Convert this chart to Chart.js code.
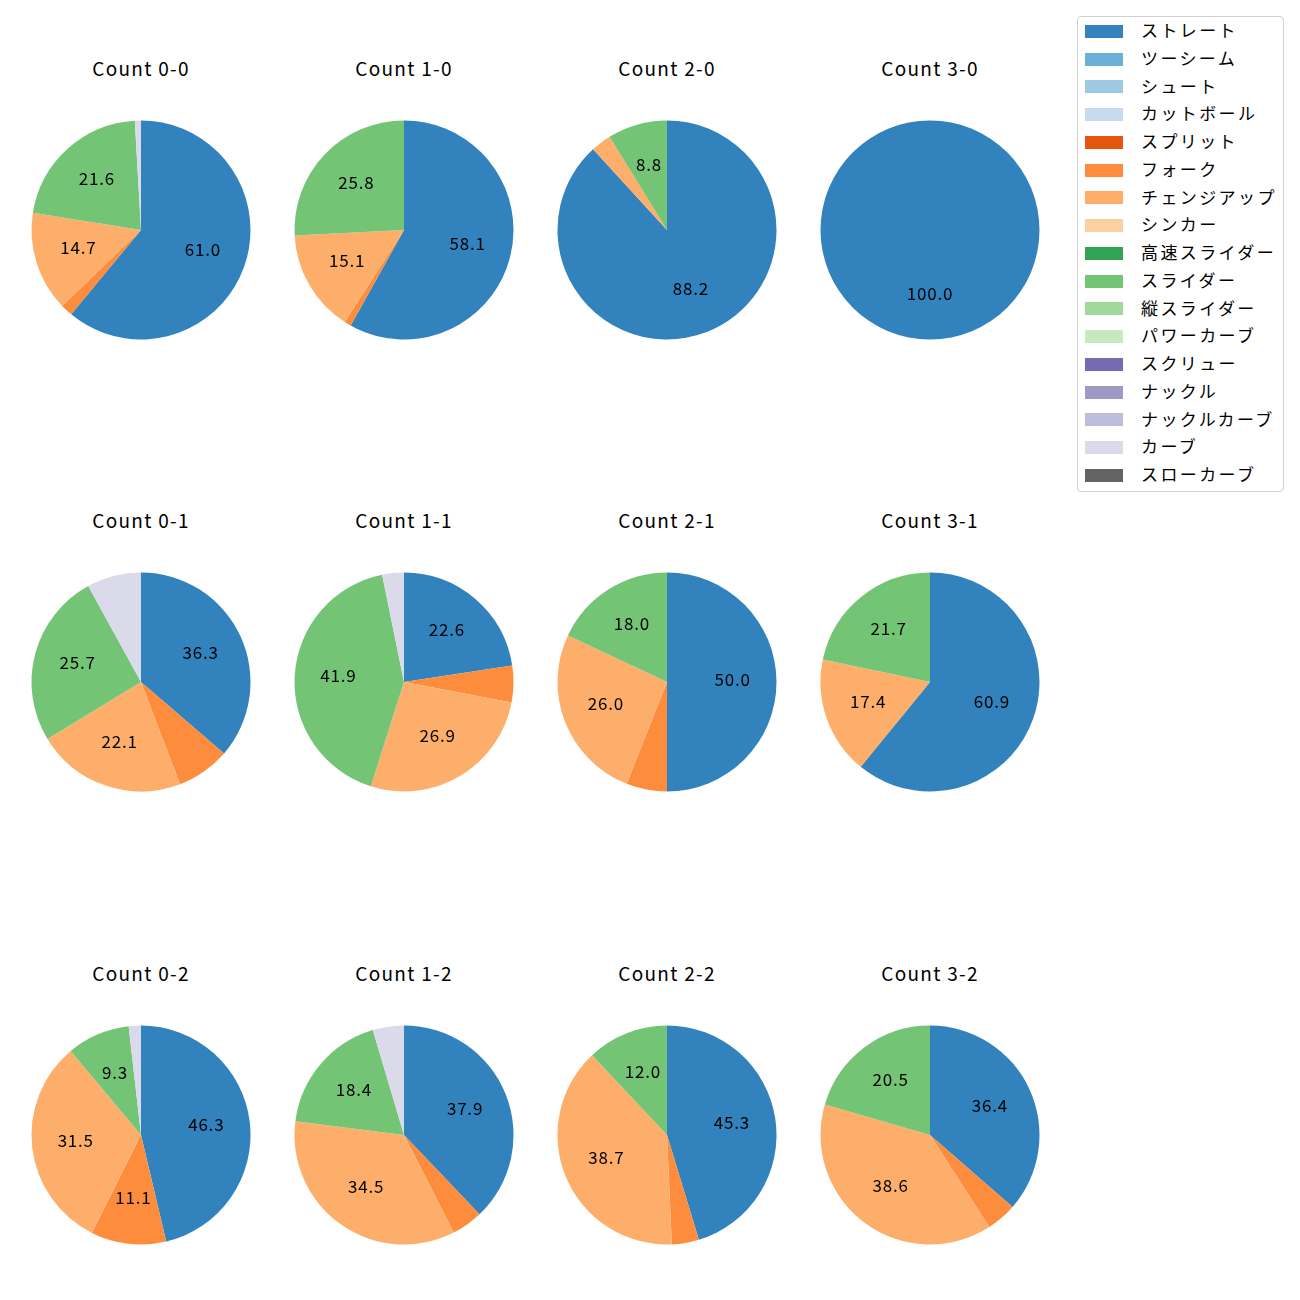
<!DOCTYPE html>
<html>
<head>
<meta charset="utf-8">
<script src="https://cdn.jsdelivr.net/npm/chart.js@4"></script>
<style>
    body { margin: 0; background: #fff; }
    #page { position: relative; width: 1300px; height: 1300px; font-family: "Noto Sans CJK JP", sans-serif; }
    .title { position: absolute; width: 240px; text-align: center; font-size: 19px; letter-spacing: 1.3px; color: #000; line-height: 24px; }
    .pie { position: absolute; }
    #legend { position: absolute; left: 1077px; top: 16px; width: 207px; height: 476px; border: 1px solid #d0d0d0; border-radius: 4px; box-sizing: border-box; }
    .entry { position: absolute; left: 7px; height: 20px; font-size: 17px; letter-spacing: 2.4px; line-height: 20px; color: #000; white-space: nowrap; }
    .swatch { display: inline-block; width: 38px; height: 13px; vertical-align: middle; margin-right: 18px; position: relative; top: -1px; }
</style>
</head>
<body>
<div id="page"></div>
<script>
// Types de lancers et couleurs (palette tab20c)
const pitchTypes = ['ストレート', 'ツーシーム', 'シュート', 'カットボール', 'スプリット', 'フォーク', 'チェンジアップ', 'シンカー', '高速スライダー', 'スライダー', '縦スライダー', 'パワーカーブ', 'スクリュー', 'ナックル', 'ナックルカーブ', 'カーブ', 'スローカーブ'];
const pitchColors = ['#3182bd', '#6baed6', '#9ecae1', '#c6dbef', '#e6550d', '#fd8d3c', '#fdae6b', '#fdd0a2', '#31a354', '#74c476', '#a1d99b', '#c7e9c0', '#756bb1', '#9e9ac8', '#bcbddc', '#dadaeb', '#636363'];

const countLabels = ['Count 0-0', 'Count 1-0', 'Count 2-0', 'Count 3-0',
                     'Count 0-1', 'Count 1-1', 'Count 2-1', 'Count 3-1',
                     'Count 0-2', 'Count 1-2', 'Count 2-2', 'Count 3-2'];

// Pourcentages par type (même ordre que pitchTypes)
const share00 = [61.0, 0, 0, 0, 0, 1.8, 14.7, 0, 0, 21.6, 0, 0, 0, 0, 0, 0.9, 0];
const share10 = [58.1, 0, 0, 0, 0, 1.0, 15.1, 0, 0, 25.8, 0, 0, 0, 0, 0, 0, 0];
const share20 = [88.2, 0, 0, 0, 0, 0, 3.0, 0, 0, 8.8, 0, 0, 0, 0, 0, 0, 0];
const share30 = [100.0, 0, 0, 0, 0, 0, 0, 0, 0, 0, 0, 0, 0, 0, 0, 0, 0];
const share01 = [36.3, 0, 0, 0, 0, 7.9, 22.1, 0, 0, 25.7, 0, 0, 0, 0, 0, 8.0, 0];
const share11 = [22.6, 0, 0, 0, 0, 5.4, 26.9, 0, 0, 41.9, 0, 0, 0, 0, 0, 3.2, 0];
const share21 = [50.0, 0, 0, 0, 0, 6.0, 26.0, 0, 0, 18.0, 0, 0, 0, 0, 0, 0, 0];
const share31 = [60.9, 0, 0, 0, 0, 0, 17.4, 0, 0, 21.7, 0, 0, 0, 0, 0, 0, 0];
const share02 = [46.3, 0, 0, 0, 0, 11.1, 31.5, 0, 0, 9.3, 0, 0, 0, 0, 0, 1.8, 0];
const share12 = [37.9, 0, 0, 0, 0, 4.6, 34.5, 0, 0, 18.4, 0, 0, 0, 0, 0, 4.6, 0];
const share22 = [45.3, 0, 0, 0, 0, 4.0, 38.7, 0, 0, 12.0, 0, 0, 0, 0, 0, 0, 0];
const share32 = [36.4, 0, 0, 0, 0, 4.5, 38.6, 0, 0, 20.5, 0, 0, 0, 0, 0, 0, 0];

const allShares = [share00, share10, share20, share30, share01, share11, share21, share31, share02, share12, share22, share32];

// Positions des camemberts
const colCenters = [141, 404, 667, 930];
const rowCenters = [229.5, 682, 1134.5];
const titleTops = [56, 508, 961];
const minLabel = 8.5;

// Plugin pour écrire les pourcentages dans les parts
const pctLabels = {
    id: 'pctLabels',
    afterDatasetsDraw(chart) {
        const ctx = chart.ctx;
        const meta = chart.getDatasetMeta(0);
        const values = chart.data.datasets[0].data;
        ctx.save();
        ctx.font = '17px "Noto Sans CJK JP", sans-serif';
        ctx.letterSpacing = '0.8px';
        ctx.fillStyle = '#000';
        ctx.textAlign = 'center';
        ctx.textBaseline = 'middle';
        meta.data.forEach((arc, i) => {
            if (values[i] < minLabel) return;
            const p = arc.getProps(['x', 'y', 'startAngle', 'endAngle', 'outerRadius'], true);
            const mid = (p.startAngle + p.endAngle) / 2;
            const r = p.outerRadius * 0.6;
            // petit décalage vertical pour centrer la police CJK
            ctx.fillText(values[i].toFixed(1), p.x + Math.cos(mid) * r, p.y + Math.sin(mid) * r - 2.5);
        });
        ctx.restore();
    }
};

const page = document.getElementById('page');

allShares.forEach((shares, idx) => {
    const col = idx % 4;
    const row = Math.floor(idx / 4);
    const cx = colCenters[col];
    const cy = rowCenters[row];

    const title = document.createElement('div');
    title.className = 'title';
    title.style.left = (cx - 120) + 'px';
    title.style.top = titleTops[row] + 'px';
    title.textContent = countLabels[idx];
    page.appendChild(title);

    const canvas = document.createElement('canvas');
    canvas.className = 'pie';
    canvas.width = 240;
    canvas.height = 240;
    canvas.style.left = (cx - 120) + 'px';
    canvas.style.top = (cy - 120) + 'px';
    page.appendChild(canvas);

    new Chart(canvas.getContext('2d'), {
        type: 'pie',
        data: {
            labels: pitchTypes,
            datasets: [{
                data: shares,
                backgroundColor: pitchColors,
                borderWidth: 0
            }]
        },
        options: {
            responsive: false,
            animation: false,
            layout: { padding: 10.5 },
            plugins: {
                legend: { display: false },
                tooltip: { enabled: false }
            }
        },
        plugins: [pctLabels]
    });
});

// Légende
const legend = document.createElement('div');
legend.id = 'legend';
pitchTypes.forEach((name, i) => {
    const entry = document.createElement('div');
    entry.className = 'entry';
    entry.style.top = (3 + i * 27.75) + 'px';
    const sw = document.createElement('span');
    sw.className = 'swatch';
    sw.style.background = pitchColors[i];
    entry.appendChild(sw);
    entry.appendChild(document.createTextNode(name));
    legend.appendChild(entry);
});
page.appendChild(legend);
</script>
</body>
</html>
